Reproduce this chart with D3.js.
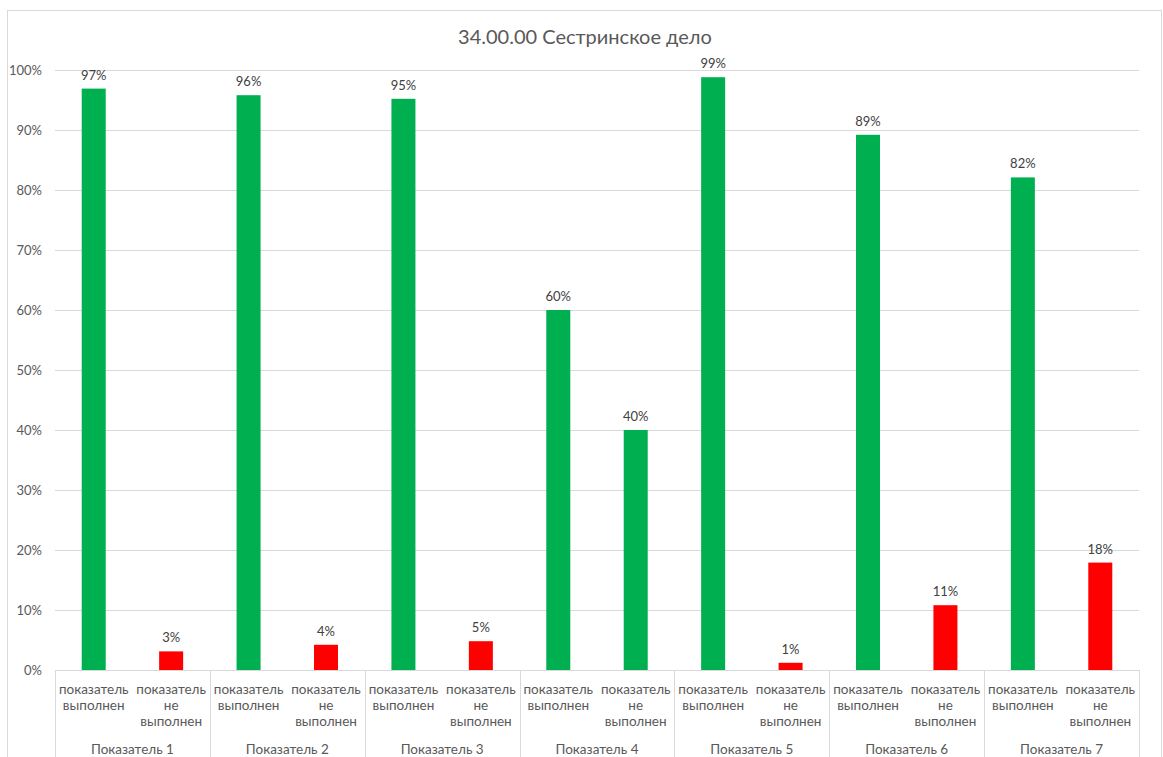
<!DOCTYPE html>
<html><head><meta charset="utf-8">
<script src="https://cdn.jsdelivr.net/npm/d3@7/dist/d3.min.js"></script>
<style>body{margin:0;background:#fff;}svg{display:block;font-family:Lato,"Open Sans",sans-serif;}</style>
</head><body>
<svg id="c" width="1163" height="757"></svg>
<script>
const title = "34.00.00 Сестринское дело";
const groups = ["Показатель 1","Показатель 2","Показатель 3","Показатель 4","Показатель 5","Показатель 6","Показатель 7"];
const subcats = ["показатель выполнен","показатель не выполнен"];
const doneValues = [96.9, 95.8, 95.2, 60, 98.8, 89.2, 82.1];
const notDoneValues = [3.1, 4.2, 4.8, 40, 1.2, 10.8, 17.9];
const doneColors = ["#00B050","#00B050","#00B050","#00B050","#00B050","#00B050","#00B050"];
const notDoneColors = ["#FF0000","#FF0000","#FF0000","#00B050","#FF0000","#FF0000","#FF0000"];
const yTicks = [0,10,20,30,40,50,60,70,80,90,100];

const svg = d3.select("#c");
const mLeft = 55, mRight = 1139, mTop = 70, mBottom = 670;

svg.append("rect").attr("x",7.5).attr("y",10.5).attr("width",1154).attr("height",800)
  .attr("fill","#fff").attr("stroke","#d9d9d9");

const y = d3.scaleLinear().domain([0,100]).range([mBottom, mTop]);
const x0 = d3.scaleBand().domain(groups).range([mLeft, mRight]).padding(0);
const x1 = d3.scaleBand().domain(subcats).range([0, x0.bandwidth()]).padding(0);
const bw = x1.bandwidth()*0.31;

// gridlines
svg.append("g").selectAll("line").data(yTicks).join("line")
  .attr("x1",mLeft).attr("x2",mRight).attr("y1",d=>y(d)+0.5).attr("y2",d=>y(d)+0.5)
  .attr("stroke","#d9d9d9").attr("stroke-width",1);

// y labels
const yAxis = d3.axisLeft(y).tickValues(yTicks).tickFormat(d=>d+"%").tickSize(0).tickPadding(13);
const ya = svg.append("g").attr("transform",`translate(${mLeft},0)`).call(yAxis);
ya.select(".domain").remove();
ya.selectAll("text").attr("fill","#595959").style("font-size","13px").style("font-family","Lato,'Open Sans',sans-serif");

// data
const data = [];
groups.forEach((g,i)=>{
  data.push({g, s:subcats[0], v:doneValues[i], c:doneColors[i]});
  data.push({g, s:subcats[1], v:notDoneValues[i], c:notDoneColors[i]});
});

svg.append("g").selectAll("rect").data(data).join("rect")
  .attr("x",d=>x0(d.g)+x1(d.s)+x1.bandwidth()/2-bw/2)
  .attr("y",d=>y(d.v)).attr("width",bw).attr("height",d=>y(0)-y(d.v))
  .attr("fill",d=>d.c);

svg.append("g").selectAll("text").data(data).join("text")
  .attr("x",d=>x0(d.g)+x1(d.s)+x1.bandwidth()/2)
  .attr("y",d=>y(d.v)-9).attr("text-anchor","middle")
  .attr("fill","#404040").style("font-size","13px")
  .text(d=>Math.round(d.v)+"%");

// category axis separators
const seps = groups.map(g=>x0(g)).concat([mRight]);
svg.append("g").selectAll("line").data(seps).join("line")
  .attr("x1",d=>Math.round(d)+0.5).attr("x2",d=>Math.round(d)+0.5).attr("y1",mBottom).attr("y2",757)
  .attr("stroke","#d9d9d9");

// sub labels
const sl = svg.append("g").selectAll("text").data(data).join("text")
  .attr("text-anchor","middle").attr("fill","#595959").style("font-size","13.5px")
  .attr("transform",d=>`translate(${x0(d.g)+x1(d.s)+x1.bandwidth()/2},${mBottom+24})`);
sl.each(function(d){
  const words = d.s.split(" ");
  d3.select(this).selectAll("tspan").data(words).join("tspan")
    .attr("x",0).attr("dy",(w,i)=>i===0?0:16).text(w=>w);
});

// group labels
svg.append("g").selectAll("text").data(groups).join("text")
  .attr("x",g=>x0(g)+x0.bandwidth()/2).attr("y",754).attr("text-anchor","middle")
  .attr("fill","#595959").style("font-size","13.5px").text(g=>g);

svg.append("text").attr("x",585).attr("y",44).attr("text-anchor","middle")
  .attr("fill","#595959").style("font-size","20px").text(title);
</script>
</body></html>
